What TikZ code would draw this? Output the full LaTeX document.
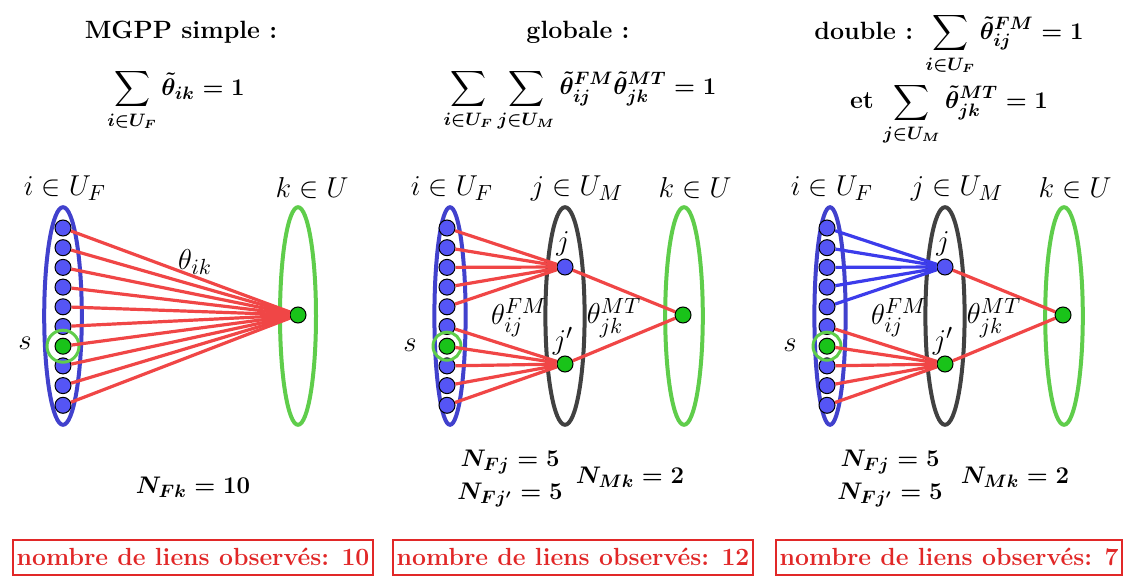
\documentclass[tikz,border=0pt]{standalone}
\usepackage{amsmath, amssymb}
\usepackage{tikz}
\usetikzlibrary{calc,positioning}

\definecolor{setblue}{RGB}{65,65,205}
\definecolor{dotblue}{RGB}{85,85,245}
\definecolor{setgreen}{RGB}{95,205,75}
\definecolor{dotgreen}{RGB}{25,195,25}
\definecolor{setgray}{RGB}{65,65,65}
\definecolor{linkred}{RGB}{240,70,70}
\definecolor{linkblue}{RGB}{60,60,235}
\definecolor{boxred}{RGB}{225,40,40}

\tikzset{
  bdot/.style={circle,draw=black,line width=0.5pt,fill=dotblue,minimum size=8pt,inner sep=0pt},
  gdot/.style={bdot,fill=dotgreen},
  member/.code={\ifnum#1=7 \pgfkeysalso{gdot}\else\pgfkeysalso{bdot}\fi},
  setring/.style={line width=2pt},
  link/.style={linkred,line width=1.6pt},
  lab/.style={font=\fontsize{15}{18}\selectfont,inner sep=1pt},
  eq/.style={font=\fontsize{12.5}{15}\selectfont\bfseries\boldmath,inner sep=0.5pt},
  count/.style={draw=boxred,line width=1pt,text=boxred,
    font=\fontsize{12.4}{15}\selectfont\bfseries,inner xsep=2pt,minimum height=17.5pt},
}

\begin{document}
\begin{tikzpicture}[x=0.5pt,y=-0.5pt]
\useasboundingbox (0,0) rectangle (1133,577);

% Titles and normalisations
\node[eq] (title1) at (181,32) {MGPP simple :};
\node[eq] (sum1) at (176,100) {$\displaystyle\sum_{i\in U_F}\tilde{\theta}_{ik}=1$};
\node[eq] (title2) at (578,32) {globale :};
\node[eq] (sum2) at (580,100)
  {$\displaystyle\sum_{i\in U_F}\sum_{j\in U_M}\tilde{\theta}^{FM}_{ij}\tilde{\theta}^{MT}_{jk}=1$};
\node[eq] (sum3a) at (949,44) {double : $\displaystyle\sum_{i\in U_F}\tilde{\theta}^{FM}_{ij}=1$};
\node[eq] (sum3b) at (949,114) {et $\displaystyle\sum_{j\in U_M}\tilde{\theta}^{MT}_{jk}=1$};

% Panel 1: simple
\draw[setring,setblue] (63,316) ellipse [x radius=9.4pt,y radius=54.4pt];
\draw[setring,setgreen] (298,316) ellipse [x radius=9pt,y radius=54.4pt];
\foreach \n in {1,...,10} { \node[member=\n] (a\n) at (63,{228+(\n-1)*19.7}) {}; }
\node[gdot] (k1) at (298,315) {};
\draw[setgreen,line width=1.5pt] (a7) circle (8pt);
\foreach \n in {1,...,10} { \draw[link] (a\n) -- (k1); }
\node[lab] (setF1) at (65,188) {$i\in U_F$};
\node[lab] (setU1) at (312,188) {$k\in U$};
\node[lab] (s1) at (25,343) {$s$};
\node[lab] (theta1) at (195,262) {$\theta_{ik}$};

% Panel 2: globale
\draw[setring,setblue] (450,316) ellipse [x radius=7.8pt,y radius=54.4pt];
\draw[setring,setgray] (565,316) ellipse [x radius=9.8pt,y radius=54.4pt];
\draw[setring,setgreen] (684,316) ellipse [x radius=9.4pt,y radius=54.4pt];
\foreach \n in {1,...,10} { \node[member=\n] (b\n) at (447,{228+(\n-1)*19.7}) {}; }
\node[bdot] (j2) at (565,267) {};
\node[gdot] (jp2) at (565,364) {};
\node[gdot] (k2) at (683,315) {};
\draw[setgreen,line width=1.5pt] (b7) circle (7pt);
\foreach \n in {1,...,5} { \draw[link] (b\n) -- (j2); }
\foreach \n in {6,...,10} { \draw[link] (b\n) -- (jp2); }
\draw[link] (j2) -- (k2);
\draw[link] (jp2) -- (k2);
\node[lab] (setF2) at (452,188) {$i\in U_F$};
\node[lab] (setM2) at (577,188) {$j\in U_M$};
\node[lab] (setU2) at (695,188) {$k\in U$};
\node[lab] (s2) at (410,345) {$s$};
\node[lab] (jl2) at (563,244) {$j$};
\node[lab] (jpl2) at (563,341) {$j'$};
\node[lab] (thfm2) at (519,318) {$\theta^{FM}_{ij}$};
\node[lab] (thmt2) at (614,318) {$\theta^{MT}_{jk}$};

% Panel 3: double
\draw[setring,setblue] (830,316) ellipse [x radius=7.8pt,y radius=54.4pt];
\draw[setring,setgray] (945,316) ellipse [x radius=9.8pt,y radius=54.4pt];
\draw[setring,setgreen] (1064,316) ellipse [x radius=9.4pt,y radius=54.4pt];
\foreach \n in {1,...,10} { \node[member=\n] (c\n) at (827,{228+(\n-1)*19.7}) {}; }
\node[bdot] (j3) at (945,267) {};
\node[gdot] (jp3) at (945,364) {};
\node[gdot] (k3) at (1063,315) {};
\draw[setgreen,line width=1.5pt] (c7) circle (7pt);
\foreach \n in {1,...,5} { \draw[link,linkblue] (c\n) -- (j3); }
\foreach \n in {6,...,10} { \draw[link] (c\n) -- (jp3); }
\draw[link] (j3) -- (k3);
\draw[link] (jp3) -- (k3);
\node[lab] (setF3) at (832,188) {$i\in U_F$};
\node[lab] (setM3) at (957,188) {$j\in U_M$};
\node[lab] (setU3) at (1075,188) {$k\in U$};
\node[lab] (s3) at (790,345) {$s$};
\node[lab] (jl3) at (943,244) {$j$};
\node[lab] (jpl3) at (943,341) {$j'$};
\node[lab] (thfm3) at (899,318) {$\theta^{FM}_{ij}$};
\node[lab] (thmt3) at (994,318) {$\theta^{MT}_{jk}$};

% Counts
\node[eq] (nfk1) at (193,487) {$N_{Fk}=10$};
\node[eq] (nfj2) at (510,462) {$N_{Fj}=5$};
\node[eq] (nfjp2) at (510,495) {$N_{Fj'}=5$};
\node[eq] (nmk2) at (630,477) {$N_{Mk}=2$};
\node[eq] (nfj3) at (890,462) {$N_{Fj}=5$};
\node[eq] (nfjp3) at (890,495) {$N_{Fj'}=5$};
\node[eq] (nmk3) at (1015,477) {$N_{Mk}=2$};

\node[count] (obs1) at (193,557) {nombre de liens observés: 10};
\node[count] (obs2) at (573,557) {nombre de liens observés: 12};
\node[count] (obs3) at (949,557) {nombre de liens observés: 7};
\end{tikzpicture}
\end{document}
